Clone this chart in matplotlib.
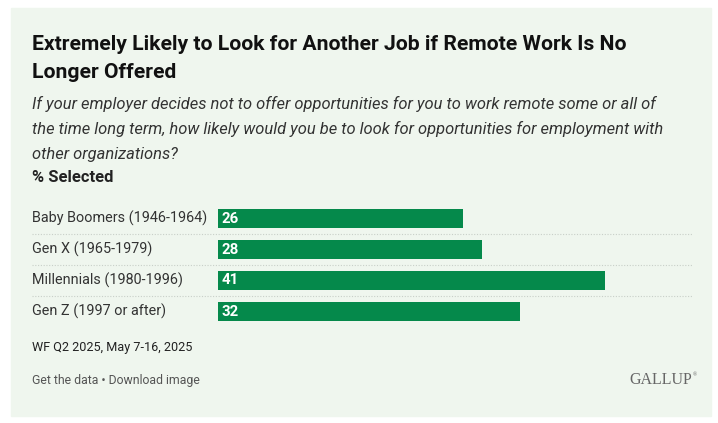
import matplotlib
matplotlib.use("Agg")
import matplotlib.pyplot as plt
from matplotlib.patches import Rectangle

# data
categories = ["Baby Boomers (1946-1964)", "Gen X (1965-1979)",
              "Millennials (1980-1996)", "Gen Z (1997 or after)"]
values = [26, 28, 41, 32]

title = "Extremely Likely to Look for Another Job if Remote Work Is No\nLonger Offered"
subtitle_lines = [
    "If your employer decides not to offer opportunities for you to work remote some or all of",
    "the time long term, how likely would you be to look for opportunities for employment with",
    "other organizations?",
]
source = "WF Q2 2025, May 7-16, 2025"

W, H = 718, 423
BG = "#eff6ee"
GREEN = "#05894b"
FONT = ["Roboto", "DejaVu Sans"]
plt.rcParams["font.family"] = FONT

fig = plt.figure(figsize=(W / 100, H / 100), dpi=100)
fig.patch.set_facecolor("white")
# light panel
fig.patches.append(Rectangle((11 / W, (H - 416) / H), 700 / W, 408 / H,
                             transform=fig.transFigure, color=BG, zorder=-5))


def ftext(x, y, s, **kw):
    # x, y in pixels from top-left
    fig.text(x / W, 1 - y / H, s, **kw)


ftext(32, 45, title.split("\n")[0], fontsize=15.2, fontweight="bold",
      color="#111111", va="center")
ftext(32, 72, title.split("\n")[1], fontsize=15.2, fontweight="bold",
      color="#111111", va="center")
for i, line in enumerate(subtitle_lines):
    ftext(32, 104 + 25 * i, line, fontsize=11.85, style="italic",
          color="#333333", va="center")
ftext(32, 177, "% Selected", fontsize=11.85, fontweight="bold",
      color="#222222", va="center")

# bar axes
px_per_unit = (605 - 218) / 41
ax_left, ax_right = 218, 693
ax_top, ax_bot = 203, 327
ax = fig.add_axes([ax_left / W, (H - ax_bot) / H,
                   (ax_right - ax_left) / W, (ax_bot - ax_top) / H])
ax.set_zorder(2)
ax.set_facecolor("none")
ax.set_xlim(0, (ax_right - ax_left) / px_per_unit)
ax.set_ylim(len(values) - 0.5, -0.5)
ypos = list(range(len(values)))
ax.barh(ypos, values, height=19 / 31, color=GREEN, zorder=2)
for y, v in zip(ypos, values):
    ax.text(0.4, y, str(v), color="white", fontsize=10.8, fontweight="bold",
            va="center", ha="left", zorder=3)
xmin = -(ax_left - 32) / (ax_right - ax_left)
for y in [0.5, 1.5, 2.5]:
    ax.axhline(y, xmin=xmin, xmax=1, color="#c8cfc8", lw=0.8,
               ls=(0, (1, 1.5)), clip_on=False, zorder=1)
for y, c in zip(ypos, categories):
    ax.text(-(ax_left - 32) / px_per_unit, y, c, fontsize=10.4, color="#333333",
            va="center", ha="left")
ax.axis("off")

ftext(32, 348, source, fontsize=9.05, color="#222222", va="center")
ftext(32, 380, "Get the data \u2022 Download image", fontsize=8.8,
      color="#555555", va="center")
fig.text(692 / W, 1 - 380 / H, "GALLUP", fontsize=11.5, color="#666666",
         family=["Liberation Serif", "DejaVu Serif"], ha="right", va="center")
fig.text(693 / W, 1 - 375 / H, "\u00ae", fontsize=4, color="#666666",
         family=["Liberation Serif", "DejaVu Serif"], ha="left", va="center")

fig.savefig("out.png", dpi=100, facecolor="white")
